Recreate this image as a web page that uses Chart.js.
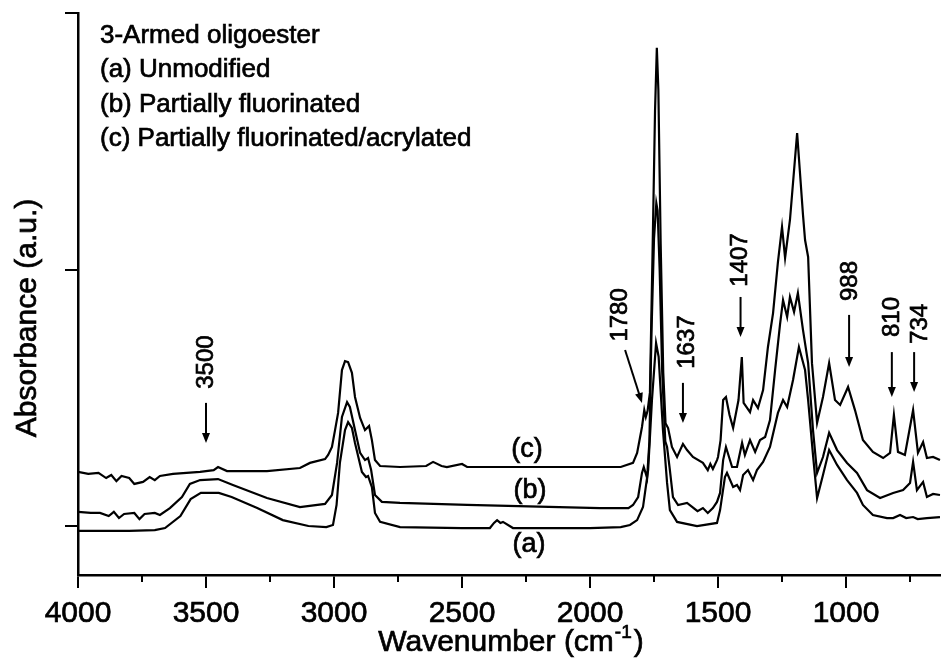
<!DOCTYPE html>
<html>
<head>
<meta charset="utf-8">
<script src="https://cdn.jsdelivr.net/npm/chart.js@4.4.1/dist/chart.umd.min.js"></script>
<style>
  html, body { margin: 0; padding: 0; background: #fff; }
  #wrap { width: 941px; height: 671px; }
</style>
</head>
<body>
<div id="wrap"><canvas id="ftir" width="941" height="671"></canvas></div>
<script>
// Spectrum (a) Unmodified
const wnA = [4000, 3900, 3800, 3700, 3660, 3600, 3560, 3520, 3450, 3400, 3300, 3200, 3100, 3030, 3004, 2990, 2977, 2957, 2945, 2930, 2918, 2891, 2875, 2867, 2852, 2840, 2820, 2742, 2500, 2391, 2375, 2363, 2350, 2340, 2301, 2000, 1880, 1844, 1816, 1793, 1773, 1758, 1742, 1732, 1715, 1699, 1688, 1660, 1582, 1504, 1492, 1473, 1465, 1441, 1426, 1414, 1402, 1383, 1363, 1348, 1324, 1297, 1266, 1246, 1230, 1207, 1184, 1160, 1148, 1129, 1113, 1090, 1066, 1035, 996, 957, 934, 895, 840, 816, 789, 765, 738, 720, 684, 633];
const absA = [-0.019, -0.019, -0.019, -0.016, -0.008, 0.039, 0.105, 0.129, 0.129, 0.113, 0.070, 0.023, 0.000, -0.004, 0.004, 0.082, 0.246, 0.374, 0.405, 0.382, 0.324, 0.211, 0.191, 0.195, 0.152, 0.051, 0.016, -0.004, -0.008, -0.008, 0.012, 0.023, 0.012, 0.016, -0.008, -0.008, -0.004, 0.004, 0.023, 0.074, 0.218, 0.491, 0.713, 0.660, 0.374, 0.168, 0.062, 0.016, 0.000, 0.012, 0.062, 0.191, 0.207, 0.152, 0.160, 0.140, 0.199, 0.218, 0.179, 0.218, 0.250, 0.308, 0.441, 0.491, 0.464, 0.569, 0.698, 0.608, 0.491, 0.277, 0.109, 0.199, 0.296, 0.238, 0.179, 0.129, 0.082, 0.043, 0.031, 0.031, 0.043, 0.031, 0.035, 0.027, 0.031, 0.035];

// Spectrum (b) Partially fluorinated
const wnB = [4000, 3950, 3914, 3880, 3860, 3840, 3820, 3780, 3760, 3740, 3700, 3680, 3641, 3594, 3563, 3523, 3453, 3395, 3262, 3133, 3035, 3008, 2988, 2969, 2949, 2938, 2918, 2898, 2879, 2867, 2855, 2840, 2813, 2742, 2480, 1961, 1850, 1832, 1812, 1797, 1790, 1777, 1768, 1760, 1750, 1741, 1736, 1728, 1718, 1706, 1699, 1688, 1676, 1656, 1621, 1600, 1580, 1559, 1540, 1520, 1504, 1492, 1480, 1469, 1445, 1426, 1406, 1395, 1375, 1355, 1336, 1316, 1297, 1277, 1258, 1246, 1230, 1219, 1203, 1188, 1168, 1148, 1129, 1113, 1090, 1066, 1035, 996, 957, 918, 867, 816, 777, 750, 738, 723, 699, 684, 660, 633];
const absB = [0.055, 0.051, 0.051, 0.039, 0.055, 0.031, 0.047, 0.051, 0.027, 0.047, 0.051, 0.043, 0.070, 0.113, 0.164, 0.179, 0.183, 0.160, 0.109, 0.074, 0.086, 0.121, 0.246, 0.425, 0.483, 0.464, 0.374, 0.285, 0.257, 0.265, 0.218, 0.121, 0.094, 0.090, 0.082, 0.070, 0.070, 0.082, 0.113, 0.207, 0.230, 0.187, 0.330, 0.750, 1.120, 1.259, 1.230, 1.000, 0.600, 0.330, 0.308, 0.218, 0.113, 0.082, 0.090, 0.074, 0.058, 0.070, 0.051, 0.070, 0.094, 0.129, 0.257, 0.308, 0.230, 0.230, 0.324, 0.277, 0.335, 0.289, 0.335, 0.347, 0.413, 0.608, 0.784, 0.881, 0.815, 0.893, 0.834, 0.908, 0.764, 0.635, 0.374, 0.207, 0.269, 0.363, 0.296, 0.246, 0.207, 0.140, 0.109, 0.129, 0.140, 0.168, 0.250, 0.140, 0.172, 0.113, 0.125, 0.121];

// Spectrum (c) Partially fluorinated/acrylated
const wnC = [4000, 3960, 3920, 3890, 3870, 3850, 3830, 3800, 3780, 3746, 3720, 3700, 3680, 3629, 3523, 3470, 3453, 3418, 3262, 3133, 3094, 3035, 3023, 3008, 2996, 2984, 2969, 2957, 2945, 2930, 2918, 2898, 2879, 2863, 2852, 2840, 2820, 2742, 2640, 2613, 2580, 2559, 2500, 2480, 2000, 1880, 1832, 1816, 1797, 1788, 1782, 1775, 1766, 1756, 1746, 1739, 1733, 1724, 1714, 1705, 1695, 1680, 1660, 1648, 1637, 1621, 1598, 1559, 1540, 1530, 1520, 1504, 1500, 1490, 1480, 1469, 1455, 1441, 1420, 1407, 1400, 1375, 1363, 1344, 1324, 1305, 1285, 1266, 1250, 1238, 1219, 1191, 1168, 1160, 1148, 1133, 1113, 1090, 1066, 1043, 1023, 992, 965, 934, 895, 855, 828, 813, 797, 770, 738, 719, 699, 684, 660, 633];
const absC = [0.211, 0.203, 0.207, 0.187, 0.199, 0.175, 0.195, 0.187, 0.164, 0.172, 0.191, 0.179, 0.195, 0.203, 0.211, 0.218, 0.230, 0.214, 0.214, 0.226, 0.246, 0.261, 0.277, 0.308, 0.374, 0.441, 0.608, 0.643, 0.639, 0.597, 0.503, 0.421, 0.374, 0.390, 0.335, 0.257, 0.234, 0.230, 0.234, 0.250, 0.234, 0.230, 0.242, 0.230, 0.230, 0.230, 0.246, 0.285, 0.386, 0.452, 0.425, 0.450, 0.520, 1.050, 1.620, 1.864, 1.700, 1.100, 0.600, 0.400, 0.382, 0.308, 0.269, 0.296, 0.320, 0.296, 0.269, 0.246, 0.218, 0.242, 0.222, 0.257, 0.269, 0.335, 0.491, 0.503, 0.433, 0.382, 0.491, 0.659, 0.480, 0.444, 0.491, 0.460, 0.530, 0.698, 0.830, 1.029, 1.166, 1.045, 1.193, 1.532, 1.212, 1.115, 1.049, 0.635, 0.402, 0.503, 0.635, 0.491, 0.472, 0.542, 0.452, 0.335, 0.289, 0.265, 0.285, 0.433, 0.289, 0.277, 0.452, 0.285, 0.327, 0.265, 0.269, 0.257];

// Axes
const xMajorTicks = [4000, 3500, 3000, 2500, 2000, 1500, 1000];
const xMinorTicks = [3750, 3250, 2750, 2250, 1750, 1250, 750];
const yTicks = [0, 1, 2];

// Text
const legendLines = ["3-Armed oligoester", "(a) Unmodified", "(b) Partially fluorinated", "(c) Partially fluorinated/acrylated"];
const curveLabels = ["(a)", "(b)", "(c)"];
const peakLabels = ["3500", "1780", "1637", "1407", "988", "810", "734"];

const FONT = '"Liberation Sans", Arial, sans-serif';

// where the peak labels and arrows sit (wavenumber, absorbance units)
const peakLayout = [
    { tx: 3500, ty: 0.639, ax1: 3500, ay1: 0.480, ax2: 3500, ay2: 0.324 },
    { tx: 1883, ty: 0.823, ax1: 1863, ay1: 0.686, ax2: 1797, ay2: 0.480 },
    { tx: 1621, ty: 0.717, ax1: 1637, ay1: 0.558, ax2: 1637, ay2: 0.402 },
    { tx: 1414, ty: 1.037, ax1: 1412, ay1: 0.893, ax2: 1412, ay2: 0.737 },
    { tx: 984, ty: 0.955, ax1: 988, ay1: 0.823, ax2: 988, ay2: 0.620 },
    { tx: 818, ty: 0.815, ax1: 821, ay1: 0.678, ax2: 821, ay2: 0.503 },
    { tx: 711, ty: 0.788, ax1: 734, ay1: 0.678, ax2: 734, ay2: 0.522 }
];
const curveLabelLayout = [
    { x: 2238, y: -0.074 },
    { x: 2234, y: 0.140 },
    { x: 2246, y: 0.300 }
];

function toPoints(xs, ys) {
    return xs.map((x, i) => ({ x: x, y: ys[i] }));
}

// scanned figure text looks a bit heavier than plain regular
function heavyText(ctx, t, x, y) {
    ctx.fillText(t, x, y);
    ctx.lineWidth = 0.7;
    ctx.strokeText(t, x, y);
}

function drawArrow(ctx, x1, y1, x2, y2) {
    const ang = Math.atan2(y2 - y1, x2 - x1);
    const head = 10, half = 4;
    ctx.lineWidth = 2;
    ctx.beginPath();
    ctx.moveTo(x1, y1);
    ctx.lineTo(x2 - head * Math.cos(ang) * 0.8, y2 - head * Math.sin(ang) * 0.8);
    ctx.stroke();
    ctx.beginPath();
    ctx.moveTo(x2, y2);
    ctx.lineTo(x2 - head * Math.cos(ang) + half * Math.sin(ang), y2 - head * Math.sin(ang) - half * Math.cos(ang));
    ctx.lineTo(x2 - head * Math.cos(ang) - half * Math.sin(ang), y2 - head * Math.sin(ang) + half * Math.cos(ang));
    ctx.closePath();
    ctx.fill();
}

// Extra drawing: minor ticks, tick labels, axis titles, labels and arrows
const decorations = {
    id: "decorations",
    afterDraw(chart) {
        const ctx = chart.ctx;
        const xs = chart.scales.x;
        const ys = chart.scales.y;
        const area = chart.chartArea;
        ctx.save();
        ctx.fillStyle = "#000";
        ctx.strokeStyle = "#000";

        // minor ticks on x
        ctx.lineWidth = 2;
        xMinorTicks.forEach(v => {
            const px = xs.getPixelForValue(v);
            ctx.beginPath();
            ctx.moveTo(px, area.bottom);
            ctx.lineTo(px, area.bottom + 7);
            ctx.stroke();
        });

        // x tick labels
        ctx.font = `30px ${FONT}`;
        ctx.textAlign = "center";
        ctx.textBaseline = "alphabetic";
        xMajorTicks.forEach(v => heavyText(ctx, String(v), xs.getPixelForValue(v), 622));

        // x title with superscript
        ctx.textAlign = "left";
        const main = "Wavenumber (cm";
        ctx.font = `30px ${FONT}`;
        const w1 = ctx.measureText(main).width;
        ctx.font = `19px ${FONT}`;
        const w2 = ctx.measureText("-1").width;
        ctx.font = `30px ${FONT}`;
        const w3 = ctx.measureText(")").width;
        const sx = 511 - (w1 + w2 + w3 + 3) / 2;
        heavyText(ctx, main, sx, 651);
        ctx.font = `19px ${FONT}`;
        heavyText(ctx, "-1", sx + w1 + 1, 638);
        ctx.font = `30px ${FONT}`;
        heavyText(ctx, ")", sx + w1 + w2 + 3, 651);

        // y title
        ctx.save();
        ctx.translate(36, 318);
        ctx.rotate(-Math.PI / 2);
        ctx.textAlign = "center";
        ctx.font = `30px ${FONT}`;
        heavyText(ctx, "Absorbance (a.u.)", 0, 0);
        ctx.restore();

        // legend block
        ctx.font = `26px ${FONT}`;
        ctx.textAlign = "left";
        const baselines = [43, 77, 112, 146];
        legendLines.forEach((t, i) => heavyText(ctx, t, area.left + 22, baselines[i]));

        // curve labels
        ctx.font = `27px ${FONT}`;
        ctx.textAlign = "center";
        ctx.textBaseline = "middle";
        curveLabels.forEach((t, i) => {
            const p = curveLabelLayout[i];
            heavyText(ctx, t, xs.getPixelForValue(p.x), ys.getPixelForValue(p.y));
        });

        // peak labels + arrows
        ctx.font = `24px ${FONT}`;
        peakLabels.forEach((t, i) => {
            const p = peakLayout[i];
            ctx.save();
            ctx.translate(xs.getPixelForValue(p.tx), ys.getPixelForValue(p.ty));
            ctx.rotate(-Math.PI / 2);
            heavyText(ctx, t, 0, 0);
            ctx.restore();
            drawArrow(ctx,
                xs.getPixelForValue(p.ax1), ys.getPixelForValue(p.ay1),
                xs.getPixelForValue(p.ax2), ys.getPixelForValue(p.ay2));
        });
        ctx.restore();
    }
};

const lineStyle = {
    borderColor: "#000",
    borderWidth: 2.2,
    pointRadius: 0,
    fill: false,
    tension: 0
};

new Chart(document.getElementById("ftir").getContext("2d"), {
    type: "line",
    data: {
        datasets: [
            { label: "(a) Unmodified", data: toPoints(wnA, absA), ...lineStyle },
            { label: "(b) Partially fluorinated", data: toPoints(wnB, absB), ...lineStyle },
            { label: "(c) Partially fluorinated/acrylated", data: toPoints(wnC, absC), ...lineStyle }
        ]
    },
    options: {
        responsive: false,
        animation: false,
        events: [],
        layout: { padding: { top: 13, right: 0, left: 0, bottom: 0 } },
        plugins: {
            legend: { display: false },
            tooltip: { enabled: false }
        },
        scales: {
            x: {
                type: "linear",
                reverse: true,
                min: 629,
                max: 4000,
                afterBuildTicks: scale => { scale.ticks = xMajorTicks.map(v => ({ value: v })); },
                afterFit: scale => { scale.height = 96; },
                grid: { drawOnChartArea: false, drawTicks: true, tickLength: 13, color: "#000", lineWidth: 2 },
                border: { display: true, color: "#000", width: 2.5 },
                ticks: { display: false }
            },
            y: {
                type: "linear",
                min: -0.191,
                max: 2.0,
                afterBuildTicks: scale => { scale.ticks = yTicks.map(v => ({ value: v })); },
                afterFit: scale => { scale.width = 78; },
                grid: { drawOnChartArea: false, drawTicks: true, tickLength: 13, color: "#000", lineWidth: 2 },
                border: { display: true, color: "#000", width: 2.5 },
                ticks: { display: false }
            }
        }
    },
    plugins: [decorations]
});
</script>
</body>
</html>
